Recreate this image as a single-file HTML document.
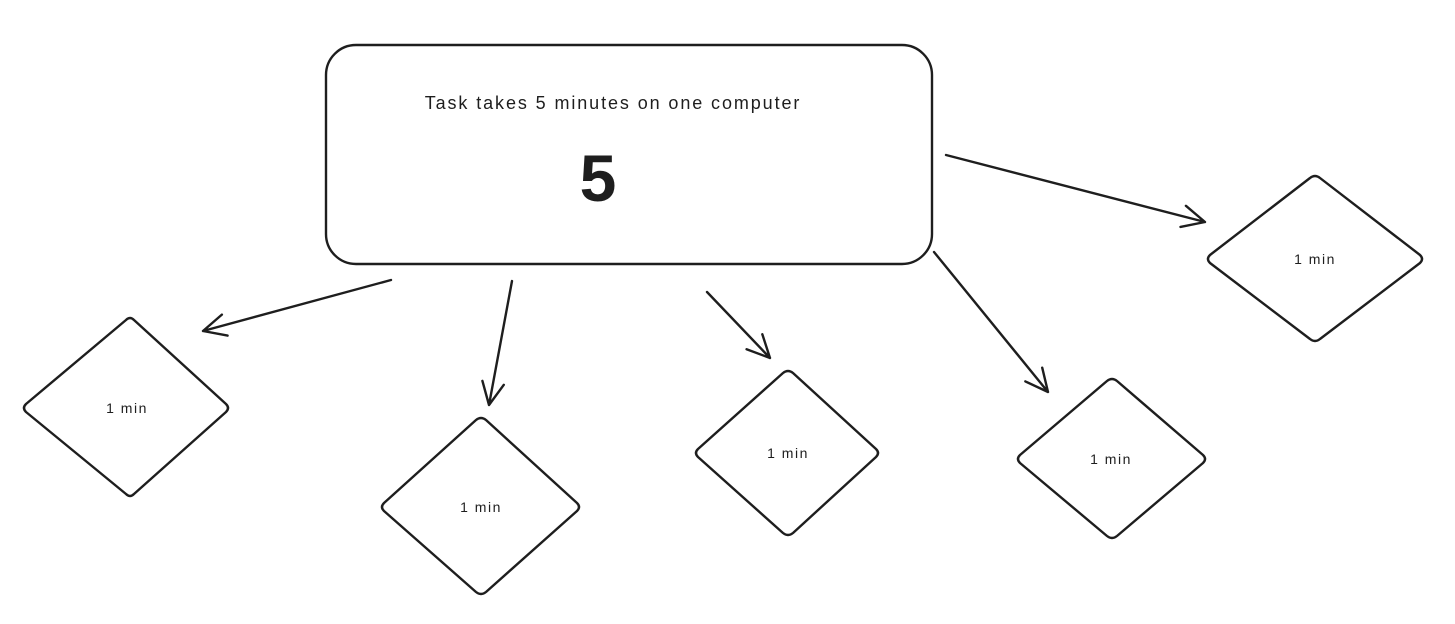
<!DOCTYPE html>
<html><head><meta charset="utf-8"><style>
html,body{margin:0;padding:0;background:#fff;}
svg{display:block;}
text{font-family:"Liberation Sans",sans-serif;fill:#1e1e1e;}
</style></head><body>
<svg id="s" width="1455" height="624" viewBox="0 0 1455 624" xmlns="http://www.w3.org/2000/svg">
<g fill="none" stroke="#1e1e1e" stroke-width="2.4" stroke-linejoin="round" stroke-linecap="round">
<rect x="326" y="45" width="606" height="219" rx="30" ry="30"/>
<path d="M126 320 Q130 316 134 320 L226 404 Q230 408 226 412 L134 494 Q130 498 126 494 L26 412 Q22 408 26 404 Z"/>
<path d="M476 420 Q481 416 486 420 L577 503 Q581 507 577 511 L486 592 Q481 596 476 592 L384 511 Q380 507 384 503 Z"/>
<path d="M783 373 Q788 369 793 373 L876 449 Q880 453 876 457 L793 533 Q788 537 783 533 L698 457 Q694 453 698 449 Z"/>
<path d="M1107 381 Q1112 377 1117 381 L1203 455 Q1207 459 1203 463 L1117 536 Q1112 540 1107 536 L1020 463 Q1016 459 1020 455 Z"/>
<path d="M1310 178 Q1315 174 1320 178 L1420 255 Q1424 259 1420 263 L1320 339 Q1315 343 1310 339 L1210 263 Q1206 259 1210 255 Z"/>
<g id="arrows"></g>
</g>
<text x="613" y="109" font-size="18" letter-spacing="1.9" text-anchor="middle">Task takes 5 minutes on one computer</text>
<text x="598" y="201" font-size="66" font-weight="bold" text-anchor="middle">5</text>
<text x="127" y="413" font-size="14" letter-spacing="1.5" text-anchor="middle">1 min</text>
<text x="481" y="512" font-size="14" letter-spacing="1.5" text-anchor="middle">1 min</text>
<text x="788" y="458" font-size="14" letter-spacing="1.5" text-anchor="middle">1 min</text>
<text x="1111" y="464" font-size="14" letter-spacing="1.5" text-anchor="middle">1 min</text>
<text x="1315" y="264" font-size="14" letter-spacing="1.5" text-anchor="middle">1 min</text>
</svg>
<script>
var A=[[391,280,203,331],[512,281,489,405],[707,292,770,358],[934,252,1048,392],[946,155,1205,222]];
var g=document.getElementById('arrows'),h='';
A.forEach(function(a){
 var dx=a[2]-a[0],dy=a[3]-a[1],ang=Math.atan2(dy,dx),L=25,sp=0.45;
 var p1=[a[2]-L*Math.cos(ang-sp),a[3]-L*Math.sin(ang-sp)];
 var p2=[a[2]-L*Math.cos(ang+sp),a[3]-L*Math.sin(ang+sp)];
 h+='<path d="M'+a[0]+' '+a[1]+' L'+a[2]+' '+a[3]+' M'+p1[0]+' '+p1[1]+' L'+a[2]+' '+a[3]+' L'+p2[0]+' '+p2[1]+'"/>';
});
g.innerHTML=h;
</script>
</body></html>
